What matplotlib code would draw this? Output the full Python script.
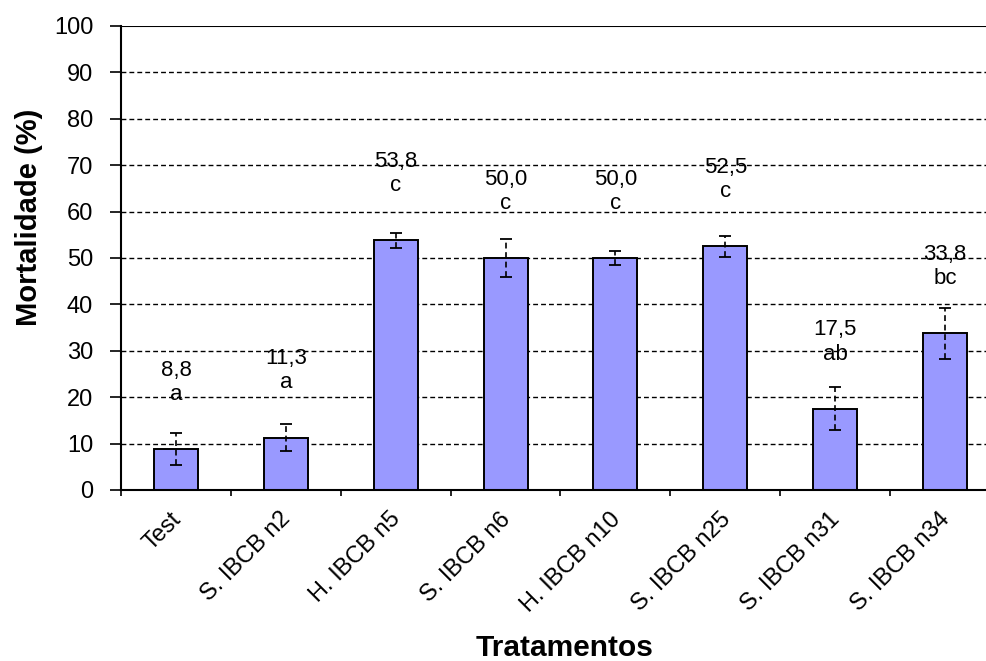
import matplotlib
matplotlib.use("Agg")
import matplotlib.pyplot as plt
import matplotlib.transforms as mtransforms
import numpy as np

# mortality per treatment (%), standard error and Tukey letters
tratamentos = ["Test", "S. IBCB n2", "H. IBCB n5", "S. IBCB n6",
               "H. IBCB n10", "S. IBCB n25", "S. IBCB n31", "S. IBCB n34"]
mortalidade = [8.8, 11.3, 53.8, 50.0, 50.0, 52.5, 17.5, 33.8]
erro = [3.5, 3.0, 1.6, 4.1, 1.6, 2.3, 4.6, 5.5]
letras = ["a", "a", "c", "c", "c", "c", "ab", "bc"]

plt.rcParams['font.family'] = ['Liberation Sans', 'DejaVu Sans']

fig = plt.figure(figsize=(9.87, 6.61), dpi=100)
# plot area runs past the right edge of the figure
ax = fig.add_axes([0.1226, 0.2587, 0.8905, 0.702])

x = np.arange(len(tratamentos))

# dashed horizontal grid behind the bars
for yv in range(10, 100, 10):
    ax.axhline(yv, color='black', lw=1.0, ls=(0, (3.5, 2.2)), zorder=0)
ax.axhline(100, color='black', lw=1.5, zorder=0)

ax.bar(x, mortalidade, width=0.4, color='#9999FF', edgecolor='black',
       linewidth=1.4, zorder=2)

eb = ax.errorbar(x, mortalidade, yerr=erro, fmt='none', ecolor='black',
                 elinewidth=1.2, capsize=4, capthick=1.3, zorder=3)
eb[2][0].set_linestyle((0, (3.5, 2.2)))

# value and letter written above each bar
for xi, v, letra in zip(x, mortalidade, letras):
    rotulo = ("%.1f" % v).replace(".", ",")
    ax.text(xi, v + 14.4, rotulo + "\n" + letra, ha='center', va='center',
            fontsize=16, zorder=4)

ax.set_xlim(-0.5, len(tratamentos) - 0.5)
ax.set_ylim(0, 100)
ax.set_yticks(range(0, 101, 10))
ax.tick_params(axis='y', direction='out', length=8, width=1.2, pad=12,
               labelsize=17)

ax.set_xticks(x)
ax.set_xticklabels(tratamentos, rotation=45, ha='right',
                   rotation_mode='anchor', fontsize=17)
ax.tick_params(axis='x', which='major', length=0, pad=13)
desloc = mtransforms.ScaledTranslation(-0.06, 0, fig.dpi_scale_trans)
for lbl in ax.get_xticklabels():
    lbl.set_transform(lbl.get_transform() + desloc)
ax.set_xticks(np.arange(-0.5, len(tratamentos), 1.0), minor=True)
ax.tick_params(axis='x', which='minor', direction='out', length=4, width=1.2)

ax.spines['top'].set_visible(False)
ax.spines['right'].set_visible(False)
ax.spines['left'].set_linewidth(1.5)
ax.spines['bottom'].set_linewidth(1.5)

fig.text(0.029, 0.671, "Mortalidade (%)", rotation=90, ha='center',
         va='center', fontsize=21, fontweight='bold')
fig.text(0.572, 0.0197, "Tratamentos", ha='center', va='center',
         fontsize=21.5, fontweight='bold')

fig.savefig("out.png", dpi=100)
